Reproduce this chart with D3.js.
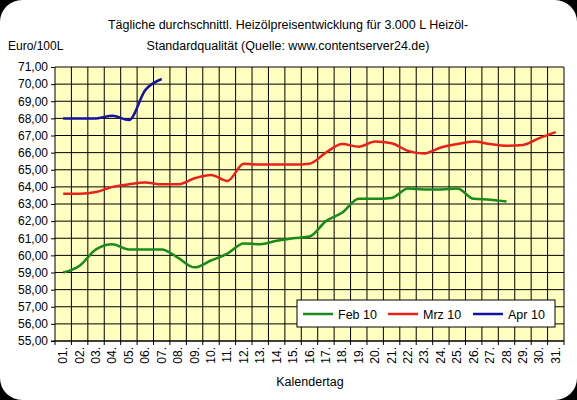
<!DOCTYPE html>
<html><head><meta charset="utf-8">
<script src="https://cdn.jsdelivr.net/npm/d3@7"></script>
<style>body{margin:0;background:#000}svg{display:block}text{font-family:"Liberation Sans",Arial,sans-serif}</style>
</head><body><svg width="577" height="400"></svg>
<script>
var days = d3.range(1, 32).map(function(d) { return (d < 10 ? "0" + d : "" + d) + "."; });
var yTicks = d3.range(55, 71.01, 1);
var feb10 = [59.0,59.4,60.35,60.65,60.35,60.35,60.35,59.85,59.3,59.7,60.1,60.7,60.65,60.85,61.0,61.1,62.0,62.5,63.3,63.3,63.35,63.9,63.85,63.85,63.9,63.3,63.25,63.15];
var mrz10 = [63.6,63.6,63.7,64.0,64.15,64.25,64.15,64.15,64.5,64.7,64.35,65.35,65.3,65.3,65.3,65.35,66.0,66.5,66.35,66.65,66.55,66.1,65.95,66.3,66.5,66.65,66.5,66.4,66.45,66.85,67.2];
var apr10 = [68.0,68.0,68.0,68.15,67.9,69.65,70.3];
var series = [
  {name: "Feb 10", values: feb10, color: "#1a8a1a"},
  {name: "Mrz 10", values: mrz10, color: "#e8221a"},
  {name: "Apr 10", values: apr10, color: "#1414a0"}
];

var svg = d3.select("svg");
svg.append("rect").attr("x", 0).attr("y", 0).attr("width", 577).attr("height", 400).attr("rx", 22).attr("fill", "#fff");

var pL = 55, pR = 564, pT = 67, pB = 341;
var x = d3.scaleBand().domain(days).range([pL, pR]);
var y = d3.scaleLinear().domain([55, 71]).range([pB, pT]);

svg.append("rect").attr("x", pL).attr("y", pT).attr("width", pR - pL).attr("height", pB - pT).attr("fill", "#ffffc0");

var g = svg.append("g");
g.selectAll(".hg").data(yTicks).enter().append("line")
  .attr("x1", pL).attr("x2", pR).attr("y1", function(d) { return y(d); }).attr("y2", function(d) { return y(d); })
  .attr("stroke", "#000").attr("stroke-width", 1);
g.selectAll(".vg").data(days).enter().append("line")
  .attr("x1", function(d) { return x(d) + x.bandwidth(); }).attr("x2", function(d) { return x(d) + x.bandwidth(); })
  .attr("y1", pT).attr("y2", pB + 4).attr("stroke", "#000").attr("stroke-width", 1);
g.append("line").attr("x1", pL).attr("x2", pL).attr("y1", pT).attr("y2", pB + 4).attr("stroke", "#000");
g.append("line").attr("x1", pL - 4).attr("x2", pR).attr("y1", pB).attr("y2", pB).attr("stroke", "#000");

svg.append("g").attr("transform", "translate(" + pL + ",0)")
  .call(d3.axisLeft(y).tickValues(yTicks).tickSize(4).tickFormat(function(d) { return d3.format(".2f")(d).replace(".", ","); }))
  .call(function(a) { a.select(".domain").remove(); a.selectAll("text").attr("font-size", 12).attr("fill", "#000").attr("font-family", "Liberation Sans, Arial, sans-serif"); a.selectAll("line").attr("stroke", "#000"); });

svg.selectAll(".xl").data(days).enter().append("text")
  .attr("transform", function(d) { return "translate(" + (x(d) + x.bandwidth() / 2 + 4) + "," + (pB + 6) + ") rotate(-90)"; })
  .attr("text-anchor", "end").attr("font-size", 12).text(function(d) { return d; });

var line = d3.line().x(function(d, i) { return x(days[i]) + x.bandwidth() / 2; }).y(function(d) { return y(d); }).curve(d3.curveMonotoneX);
svg.selectAll(".s").data(series).enter().append("path")
  .attr("d", function(d) { return line(d.values); }).attr("fill", "none")
  .attr("stroke", function(d) { return d.color; }).attr("stroke-width", 2.5);

svg.append("text").attr("x", 288).attr("y", 29).attr("text-anchor", "middle").attr("font-size", 12.5)
  .text("Tägliche durchschnittl. Heizölpreisentwicklung für 3.000 L Heizöl-");
svg.append("text").attr("x", 288).attr("y", 50).attr("text-anchor", "middle").attr("font-size", 12.5)
  .text("Standardqualität (Quelle: www.contentserver24.de)");
svg.append("text").attr("x", 8).attr("y", 50).attr("font-size", 12).text("Euro/100L");
svg.append("text").attr("x", 310).attr("y", 386).attr("text-anchor", "middle").attr("font-size", 12.5).text("Kalendertag");

var lg = svg.append("g").attr("transform", "translate(297,300)");
lg.append("rect").attr("width", 258).attr("height", 27).attr("fill", "#fff").attr("stroke", "#000");
series.forEach(function(s, i) {
  var ox = 6 + i * 85;
  lg.append("line").attr("x1", ox).attr("x2", ox + 30).attr("y1", 14).attr("y2", 14).attr("stroke", s.color).attr("stroke-width", 2.5);
  lg.append("text").attr("x", ox + 35).attr("y", 18.5).attr("font-size", 12.5).text(s.name);
});
</script></body></html>
